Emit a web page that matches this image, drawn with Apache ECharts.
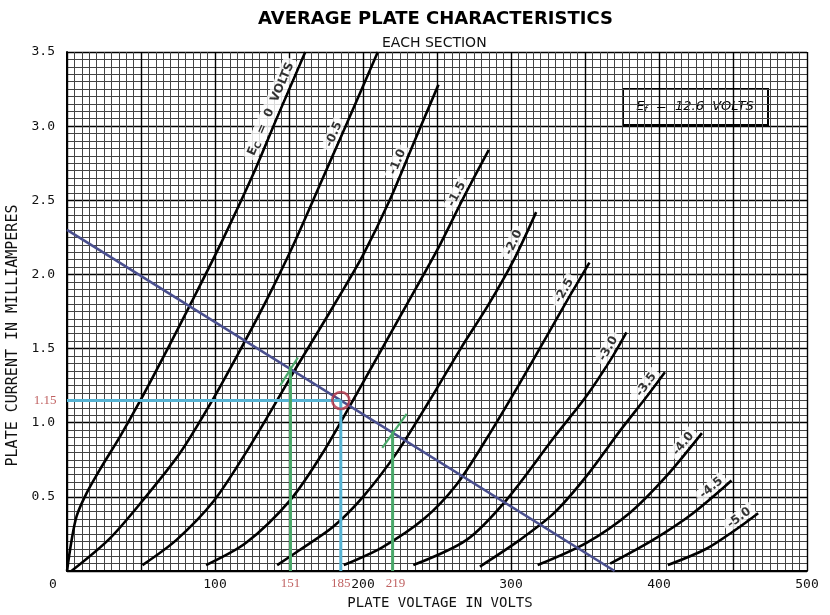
<!DOCTYPE html>
<html><head><meta charset="utf-8">
<script src="https://cdn.jsdelivr.net/npm/echarts@6/dist/echarts.min.js"></script>
<style>html,body{margin:0;padding:0;background:#fff}#c{width:830px;height:615px}</style>
</head><body><div id="c"></div>
<script>
// ---------- data ----------
const xTickLabels = ['0', '100', '200', '300', '400', '500'];
const yTickLabels = ['0', '0.5', '1.0', '1.5', '2.0', '2.5', '3.0', '3.5'];
const gridBiasLabels = ['E_C = 0 VOLTS', '-0.5', '-1.0', '-1.5', '-2.0', '-2.5', '-3.0', '-3.5', '-4.0', '-4.5', '-5.0'];

const curveEc0  = [[0,0],[3,0.2],[6.5,0.37],[13,0.52],[22,0.68],[36,0.91],[49,1.14],[67,1.48],[85,1.83],[105,2.23],[126,2.68],[142,3.06],[161,3.5]];
const curveM05  = [[3,0],[29,0.22],[54,0.51],[76,0.79],[97,1.13],[117,1.49],[135,1.83],[153,2.2],[172,2.63],[190,3.04],[210,3.5]];
const curveM10  = [[51,0.04],[74,0.21],[99,0.47],[121,0.8],[139,1.1],[153,1.34],[170,1.62],[185,1.87],[200,2.13],[218,2.5],[234,2.88],[251,3.28]];
const curveM15  = [[94,0.04],[121,0.19],[151,0.48],[173,0.8],[196,1.2],[214,1.52],[232,1.84],[252,2.2],[268,2.52],[285,2.84]];
const curveM20  = [[142,0.04],[157,0.14],[180,0.3],[200,0.5],[223,0.8],[245,1.15],[266,1.5],[285,1.8],[302,2.1],[317,2.42]];
const curveM25  = [[187,0.04],[213,0.16],[241,0.35],[263,0.58],[284,0.9],[305,1.25],[324,1.58],[340,1.86],[353,2.08]];
const curveM30  = [[234,0.04],[270,0.21],[297,0.48],[329,0.9],[351,1.18],[367,1.42],[378,1.61]];
const curveM35  = [[279,0.03],[306,0.21],[329,0.39],[351,0.64],[374,0.95],[392,1.18],[404,1.34]];
const curveM40  = [[318,0.04],[351,0.19],[380,0.39],[405,0.64],[429,0.93]];
const curveM45  = [[367,0.05],[396,0.21],[423,0.39],[449,0.61]];
const curveM50  = [[406,0.04],[432,0.15],[452,0.28],[467,0.39]];

const loadLine   = [[0,2.3],[370,0]];
const cyanHoriz  = [[0,1.15],[185,1.15]];
const cyanVert   = [[185,1.15],[185,0]];
const opPoint    = [[185,1.15]];
const green151   = [[151,0],[151,1.38]];
const green151Tk = [[144,1.25],[156,1.44]];
const green219   = [[220,0],[220,0.94]];
const green219Tk = [[213,0.83],[229.5,1.06]];
const redXPoints = [[151,0],[185,0],[222,0]];
const redXLabels = ['151', '185', '219'];
const redYPoints = [[0,1.15]];
const redYLabels = ['1.15'];

// ---------- styles ----------
const curves = [curveEc0, curveM05, curveM10, curveM15, curveM20, curveM25, curveM30, curveM35, curveM40, curveM45, curveM50];
const labelBack = [12, 76, 70, 37, 20, 20, 6, 4, 3, 3, 1];
const MONO = 'DejaVu Sans Mono';
const SANS = 'DejaVu Sans';

const chart = echarts.init(document.getElementById('c'));

const curveSeries = curves.map((d, i) => ({
  type: 'line', name: gridBiasLabels[i], data: d, smooth: 0.3,
  showSymbol: false, symbol: 'none', silent: true, z: 3,
  lineStyle: { color: '#000', width: 2.6 }
}));

function lineSer(data, color, width, z) {
  return { type: 'line', data: data, showSymbol: false, symbol: 'none', silent: true, z: z,
    lineStyle: { color: color, width: width, cap: 'butt' } };
}

const option = {
  animation: false,
  backgroundColor: '#fff',
  grid: { left: 67, right: 23, top: 52, bottom: 44, containLabel: false, outerBoundsMode: 'none' },
  xAxis: {
    type: 'value', min: 0, max: 500, interval: 50,
    name: 'PLATE VOLTAGE IN VOLTS', nameLocation: 'middle', nameGap: 25,
    nameTextStyle: { fontFamily: MONO, fontSize: 14, color: '#111', padding: [0, 0, 0, 6] },
    axisLine: { show: true, lineStyle: { color: '#000', width: 2 } },
    axisTick: { show: false },
    minorTick: { show: false, splitNumber: 10 },
    minorSplitLine: { show: true, lineStyle: { color: '#444', width: 1 } },
    splitLine: { show: true, lineStyle: { color: '#000', width: 1.4 } },
    axisLabel: {
      margin: 7, fontFamily: MONO, fontSize: 13, color: '#111',
      formatter: v => {
        if (v % 100 !== 0) return '';
        const t = xTickLabels[v / 100];
        return v === 0 ? '{o|' + t + '}' : t;
      },
      rich: { o: { fontFamily: MONO, fontSize: 13, color: '#111', padding: [0, 28, 0, 0] } }
    }
  },
  yAxis: {
    type: 'value', min: 0, max: 3.5, interval: 0.5,
    name: 'PLATE CURRENT IN MILLIAMPERES', nameLocation: 'middle', nameGap: 42, nameRotate: 90,
    nameTextStyle: { fontFamily: MONO, fontSize: 15, color: '#111', padding: [0, 48, 0, 0] },
    axisLine: { show: true, lineStyle: { color: '#000', width: 2 } },
    axisTick: { show: false },
    minorTick: { show: false, splitNumber: 10 },
    minorSplitLine: { show: true, lineStyle: { color: '#444', width: 1 } },
    splitLine: { show: true, lineStyle: { color: '#000', width: 1.4 } },
    axisLabel: {
      margin: 12, fontFamily: MONO, fontSize: 13, color: '#111',
      formatter: v => { const i = Math.round(v / 0.5); return i === 0 ? '' : yTickLabels[i]; }
    }
  },
  graphic: [
    { type: 'text', left: 258, top: 10, z: 10,
      style: { text: 'AVERAGE PLATE CHARACTERISTICS', fontFamily: SANS, fontWeight: 'bold', fontSize: 18, fill: '#000' } },
    { type: 'text', left: 382, top: 36, z: 10,
      style: { text: 'EACH SECTION', fontFamily: SANS, fontSize: 14, fill: '#111' } },
    { type: 'group', left: 622, top: 88, z: 20, children: [
      { type: 'rect', shape: { x: 0, y: 0, width: 145, height: 36 }, style: { fill: '#fff', stroke: '#000', lineWidth: 2 } },
      { type: 'text', x: 72, y: 18, style: {
          text: '{i|E}{s|f}{i|  =  12.6  VOLTS}', align: 'center', verticalAlign: 'middle',
          rich: { i: { fontFamily: SANS, fontStyle: 'italic', fontSize: 13, fill: '#000' },
                  s: { fontFamily: SANS, fontStyle: 'italic', fontSize: 9, fill: '#000', padding: [6, 0, 0, 0] } } } }
    ] }
  ],
  series: [
    ...curveSeries,
    lineSer(loadLine, '#4a4f8e', 2.6, 5),
    lineSer(cyanHoriz, '#56b3d3', 3, 6),
    lineSer(cyanVert, '#56b3d3', 3, 6),
    lineSer(green151, '#4aa86a', 3, 6),
    lineSer(green151Tk, '#4aa86a', 2.2, 6),
    lineSer(green219, '#4aa86a', 3, 6),
    lineSer(green219Tk, '#4aa86a', 2.2, 6),
    { type: 'scatter', data: opPoint, symbol: 'circle', symbolSize: 17, silent: true, z: 7,
      itemStyle: { color: 'rgba(0,0,0,0)', borderColor: '#b3354a', borderWidth: 2.6 } },
    { type: 'scatter', data: redXPoints, symbolSize: 1, silent: true, clip: false, z: 8,
      itemStyle: { color: 'rgba(0,0,0,0)' },
      label: { show: true, position: 'bottom', distance: 6, color: '#b03a3a', fontFamily: 'Liberation Serif', fontSize: 13,
        formatter: p => redXLabels[p.dataIndex] } },
    { type: 'scatter', data: redYPoints, symbolSize: 1, silent: true, clip: false, z: 8,
      itemStyle: { color: 'rgba(0,0,0,0)' },
      label: { show: true, position: 'left', distance: 10, color: '#b03a3a', fontFamily: 'Liberation Serif', fontSize: 13,
        formatter: p => redYLabels[p.dataIndex] } },
    { id: 'curveLabels', type: 'scatter', data: curves.map(c => c[c.length - 1]), symbolSize: 1, silent: true, clip: false, z: 9,
      itemStyle: { color: 'rgba(0,0,0,0)' },
      label: { show: true, position: 'inside', align: 'right', verticalAlign: 'bottom',
        backgroundColor: '#fff', padding: [1, 4, 0, 4], color: '#000', fontFamily: SANS, fontWeight: 'bold', fontSize: 12,
        formatter: p => p.dataIndex === 0 ? '{e|E}{s|C}{e|  =  0  VOLTS}' : gridBiasLabels[p.dataIndex],
        rich: { e: { fontFamily: SANS, fontWeight: 'bold', fontSize: 12, color: '#000' },
                s: { fontFamily: SANS, fontWeight: 'bold', fontSize: 9, color: '#000', padding: [6, 0, 0, 0] } } } }
  ]
};

chart.setOption(option);

// rotate curve labels along each curve's end segment (computed through the chart's own scales)
const rots = curves.map(c => {
  const n = c.length;
  const a = chart.convertToPixel({ gridIndex: 0 }, c[n - 2]);
  const b = chart.convertToPixel({ gridIndex: 0 }, c[n - 1]);
  return Math.atan2(a[1] - b[1], b[0] - a[0]) * 180 / Math.PI;
});
chart.setOption({ series: [{ id: 'curveLabels',
  data: curves.map((c, i) => ({ value: c[c.length - 1], label: { rotate: rots[i], offset: [-labelBack[i], -1.5] } })) }] });
</script></body></html>
